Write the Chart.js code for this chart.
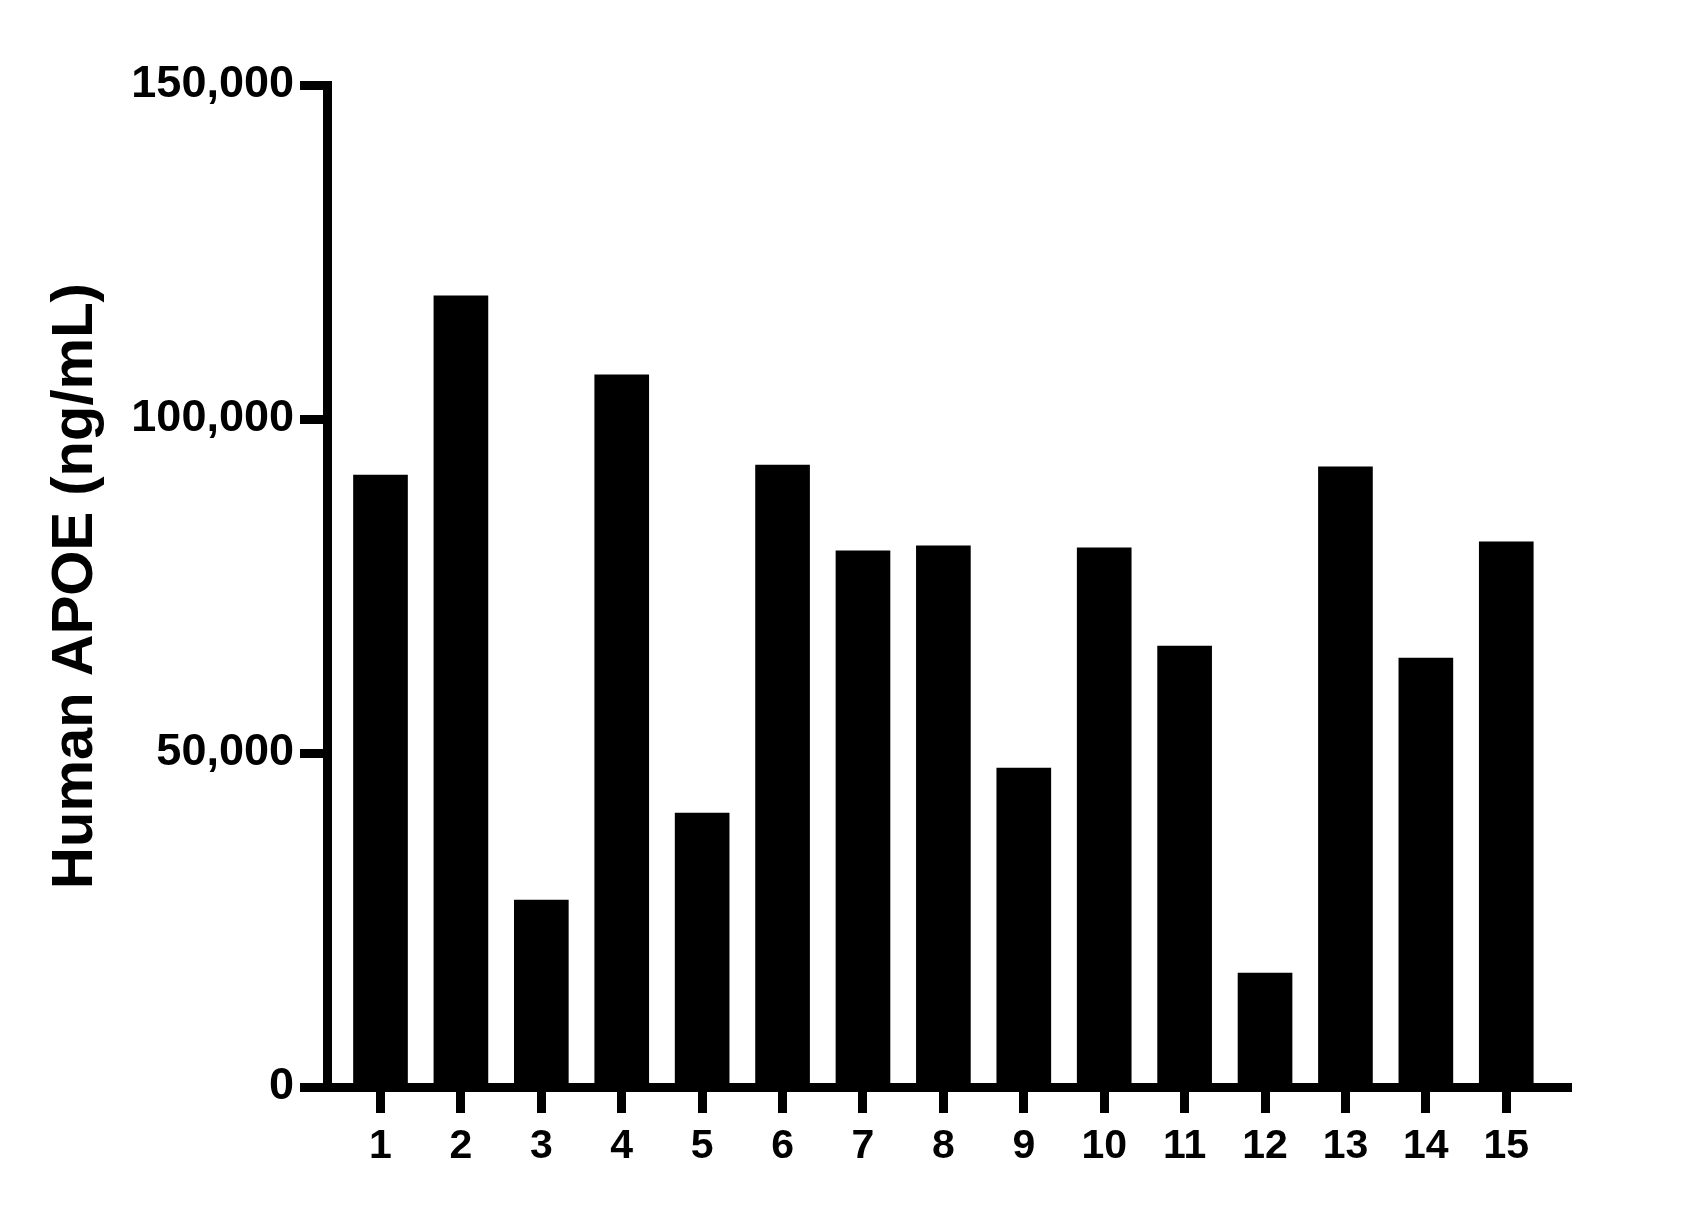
<!DOCTYPE html>
<html>
<head>
<meta charset="utf-8">
<script src="https://cdn.jsdelivr.net/npm/chart.js@4/dist/chart.umd.min.js"></script>
<style>
    body { margin: 0; background: #fff; }
    #wrap { width: 1701px; height: 1209px; position: relative; }
</style>
</head>
<body>
<div id="wrap"><canvas id="apoeChart"></canvas></div>
<script>
// Muestras (eje X) y valores de APOE
const samples = [1, 2, 3, 4, 5, 6, 7, 8, 9, 10, 11, 12, 13, 14, 15];
const apoeValues = [91600, 118450, 28000, 106600, 41000, 93100, 80250, 81000, 47750, 80700, 66000, 17050, 92850, 64200, 81600];
const yTicks = [0, 50000, 100000, 150000];
const yTitle = 'Human APOE (ng/mL)';

const FONT = '"Liberation Sans", Arial, sans-serif';

// Construir puntos para la escala lineal
const points = samples.map((s, i) => ({ x: s, y: apoeValues[i] }));

const ctx = document.getElementById('apoeChart').getContext('2d');

new Chart(ctx, {
    type: 'bar',
    data: {
        datasets: [{
            label: yTitle,
            data: points,
            backgroundColor: '#000000',
            borderWidth: 0,
            barThickness: 54
        }]
    },
    options: {
        responsive: true,
        maintainAspectRatio: false,
        animation: false,
        layout: {
            padding: { left: 0, top: 85, right: 130, bottom: 0 }
        },
        plugins: {
            legend: { display: false },
            tooltip: { enabled: false }
        },
        scales: {
            x: {
                type: 'linear',
                min: 0.3347,
                max: 15.805,
                bounds: 'data',
                offset: false,
                afterBuildTicks: axis => {
                    axis.ticks = samples.map(v => ({ value: v }));
                },
                afterFit: axis => {
                    axis.height = 122;
                },
                grid: {
                    offset: false,
                    drawOnChartArea: false,
                    tickLength: 26,
                    tickWidth: 9,
                    tickColor: '#000000'
                },
                border: { color: '#000000', width: 9 },
                ticks: {
                    autoSkip: false,
                    maxRotation: 0,
                    padding: 9,
                    color: '#000000',
                    font: { family: FONT, size: 41, weight: 'bold' },
                    callback: value => String(value)
                }
            },
            y: {
                min: 0,
                max: 150000,
                afterBuildTicks: axis => {
                    axis.ticks = yTicks.map(v => ({ value: v }));
                },
                afterFit: axis => {
                    axis.width = 327;
                },
                grid: {
                    drawOnChartArea: false,
                    tickLength: 27,
                    tickWidth: 9,
                    tickColor: '#000000'
                },
                border: { color: '#000000', width: 9 },
                ticks: {
                    padding: 6,
                    color: '#000000',
                    font: { family: FONT, size: 45, weight: 'bold' },
                    callback: value => value.toLocaleString('en-US')
                },
                title: {
                    display: true,
                    text: yTitle,
                    color: '#000000',
                    padding: { top: 41, bottom: 0 },
                    font: { family: FONT, size: 58, weight: 'bold' }
                }
            }
        }
    }
});
</script>
</body>
</html>
